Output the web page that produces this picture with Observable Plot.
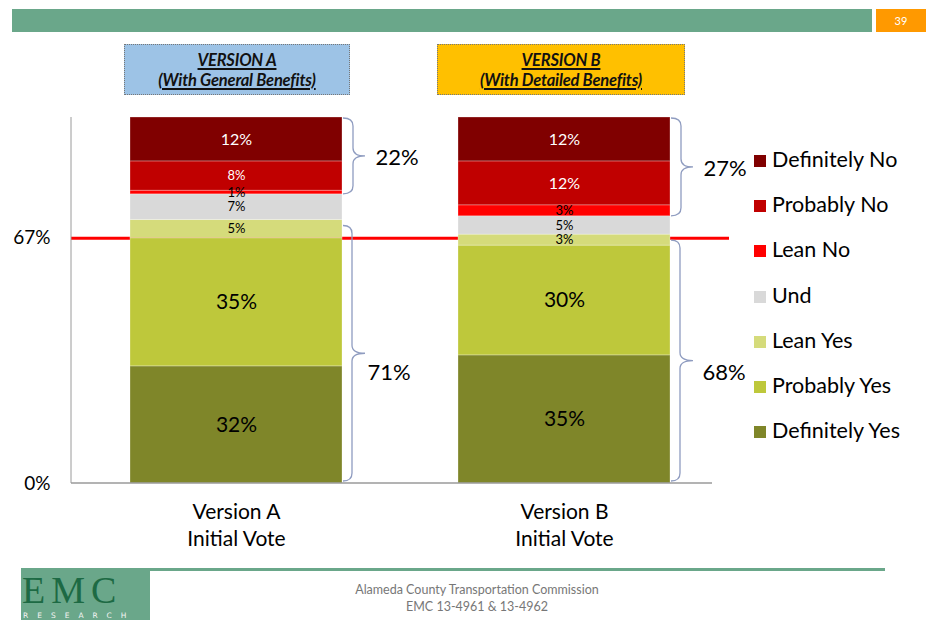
<!DOCTYPE html>
<html>
<head>
<meta charset="utf-8">
<script src="https://cdn.jsdelivr.net/npm/d3@7"></script>
<script src="https://cdn.jsdelivr.net/npm/@observablehq/plot@0.6"></script>
<style>
  html, body { margin: 0; padding: 0; background: #fff; }
  #page { position: relative; width: 926px; height: 620px; overflow: hidden; font-family: Lato, sans-serif; }
  #chart { position: absolute; left: 0; top: 0; }
  .abs { position: absolute; }
  .vbox { position: absolute; top: 44px; height: 51px; border: 1px dotted #777; box-sizing: border-box;
          font-family: Lato, sans-serif; font-weight: 700; font-style: italic; font-size: 16.5px;
          text-align: center; color: #111; line-height: 20px; padding-top: 5px; letter-spacing: -0.2px; }
  .vbox span { text-decoration: underline; text-decoration-thickness: 1.5px; text-underline-offset: 2px; }
  .leg { position: absolute; left: 754px; font-size: 21.5px; color: #000; height: 26px; line-height: 26px; white-space: nowrap; }
  .leg i { display: inline-block; width: 12px; height: 12px; margin-right: 6px; vertical-align: 0px; }
</style>
</head>
<body>
<div id="page">
  <div id="chart"></div>
  <div class="abs" style="left:12px; top:9px; width:860px; height:23px; background:#6aa78a;"></div>
  <div class="abs" style="left:876px; top:9px; width:50px; height:23px; background:#ff9900; color:#fff; font-size:11px; line-height:23px; text-align:center;">39</div>
  <div class="vbox" style="left:124px; width:226px; background:#9dc3e6;"><span>VERSION A</span><br><span>(With General Benefits)</span></div>
  <div class="vbox" style="left:437px; width:248px; background:#ffc000;"><span>VERSION B</span><br><span>(With Detailed Benefits)</span></div>
  <div id="legend"></div>
  <div class="abs" style="left:150px; top:568px; width:735px; height:3px; background:#6aa78a;"></div>
  <div class="abs" style="left:21px; top:568px; width:129px; height:52px; background:#6aa78a;">
    <div class="abs" style="left:1px; top:3px; height:38px; font-family:'Liberation Serif', serif; font-size:38px; color:#1d6a44; letter-spacing:6px; line-height:38px;">EMC</div>
    <div class="abs" style="left:2px; top:44px; height:8px; font-family:'DejaVu Sans', sans-serif; font-size:7.5px; color:#f4f4f4; letter-spacing:9px; line-height:8px; white-space:nowrap;">RESEARCH</div>
  </div>
  <div class="abs" style="left:277px; width:400px; top:581px; text-align:center; font-size:12.5px; color:#777; line-height:17px;">Alameda County Transportation Commission<br>EMC 13-4961 &amp; 13-4962</div>
</div>
<script>
// ---- data ----
const categories = ["Definitely Yes", "Probably Yes", "Lean Yes", "Und", "Lean No", "Probably No", "Definitely No"];
const colors = ["#7f8629", "#bec83b", "#d5db7b", "#d9d9d9", "#ff0000", "#c00000", "#800000"];
const versions = ["Version A", "Version B"];
const valuesA = [32, 35, 5, 7, 1, 8, 12];
const valuesB = [35, 30, 3, 5, 3, 12, 12];
const yesTotals = [71, 68];
const noTotals = [22, 27];
const threshold = 67;
const yTicks = [0, 67];
const yesCats = ["Definitely Yes", "Probably Yes", "Lean Yes"];
const noCats = ["Lean No", "Probably No", "Definitely No"];
const whiteLabelCats = ["Probably No", "Definitely No"];

const seriesValues = [valuesA, valuesB];
const rows = versions.flatMap((v, i) => categories.map((c, j) => ({version: v, category: c, value: seriesValues[i][j]})));
const totals = versions.map((v, i) => {
  const vals = seriesValues[i];
  const yesSum = d3.sum(categories.map((c, j) => yesCats.includes(c) ? vals[j] : 0));
  const noSum = d3.sum(categories.map((c, j) => noCats.includes(c) ? vals[j] : 0));
  return {version: v, yes: yesTotals[i], no: noTotals[i], yesSum, noSum, idx: i};
});

const labelText = d => d.value + "%";
const labelSize = d => d.value >= 20 ? 21 : d.value >= 10 ? 16 : 13;

function bracePath(x0, ya, yb, w1, w2) {
  const r = Math.min(8, (yb - ya) / 4);
  const ym = (ya + yb) / 2;
  return `M${x0},${ya} Q${x0 + w1},${ya} ${x0 + w1},${ya + r} L${x0 + w1},${ym - r} Q${x0 + w1},${ym} ${x0 + w2},${ym} ` +
         `Q${x0 + w1},${ym} ${x0 + w1},${ym + r} L${x0 + w1},${yb - r} Q${x0 + w1},${yb} ${x0},${yb}`;
}

const decor = (index, scales, values, dims) => {
  const {x, y} = scales;
  const bw = x.bandwidth ? x.bandwidth() : 212;
  const g = d3.create("svg:g");
  const last = x(versions[versions.length - 1]) + bw;
  g.append("line").attr("x1", dims.marginLeft).attr("x2", dims.marginLeft)
    .attr("y1", y(100)).attr("y2", y(0)).attr("stroke", "#9a9a9a").attr("stroke-width", 1);
  g.append("line").attr("x1", dims.marginLeft).attr("x2", last + 42)
    .attr("y1", y(0)).attr("y2", y(0)).attr("stroke", "#9a9a9a").attr("stroke-width", 1.5);
  for (const t of totals) {
    const x0 = x(t.version) + bw + 1;
    g.append("path").attr("d", bracePath(x0, y(100) + 1, y(100 - t.noSum), 10, 22))
      .attr("fill", "none").attr("stroke", "#8f9cc0").attr("stroke-width", 1.3);
    g.append("path").attr("d", bracePath(x0, y(t.yesSum) + 6, y(0) - 2, 9, 22))
      .attr("fill", "none").attr("stroke", "#8f9cc0").attr("stroke-width", 1.3);
  }
  return g.node();
};

const chart = Plot.plot({
  width: 926,
  height: 620,
  marginTop: 117,
  marginBottom: 137,
  marginLeft: 71,
  marginRight: 197,
  style: {fontFamily: "Lato, sans-serif", color: "#000", background: "transparent"},
  x: {domain: versions, paddingInner: 0.354, paddingOuter: 0.18, axis: null},
  y: {domain: [0, 100], axis: null},
  color: {domain: categories, range: colors},
  marks: [
    Plot.ruleY([threshold], {stroke: "#ff0000", strokeWidth: 3}),
    Plot.barY(rows, {x: "version", y: "value", fill: "category", stroke: "#ffffff", strokeOpacity: 0.35, strokeWidth: 0.8}),
    Plot.text(rows, Plot.stackY({x: "version", y: "value", z: "category",
      text: d => whiteLabelCats.includes(d.category) ? labelText(d) : null, fontSize: labelSize, fill: "#ffffff"})),
    Plot.text(rows, Plot.stackY({x: "version", y: "value", z: "category",
      text: d => whiteLabelCats.includes(d.category) ? null : labelText(d), fontSize: labelSize, fill: "#000000"})),
    decor,
    Plot.text(totals, {x: "version", y: d => 100 - d.noSum / 2, text: d => d.no + "%", dx: 139, dy: 2, textAnchor: "start", fontSize: 22, fill: "#000"}),
    Plot.text(totals, {filter: d => d.idx === 0, x: "version", y: d => d.yesSum / 2, text: d => d.yes + "%", dx: 131, dy: 21, textAnchor: "start", fontSize: 22, fill: "#000"}),
    Plot.text(totals, {filter: d => d.idx === 1, x: "version", y: d => d.yesSum / 2, text: d => d.yes + "%", dx: 138, dy: 14, textAnchor: "start", fontSize: 22, fill: "#000"}),
    Plot.axisY(yTicks, {label: null, tickSize: 0, tickPadding: 21, fontSize: 19, tickFormat: d => d + "%", fill: "#000"}),
    Plot.axisX({label: null, tickSize: 0, tickPadding: 16, fontSize: 21, lineHeight: 1.3, tickFormat: d => d + "\nInitial Vote", fill: "#000"})
  ]
});
document.getElementById("chart").appendChild(chart);

// legend (top to bottom: reverse of stacking order)
const legend = document.getElementById("legend");
categories.slice().reverse().forEach((c, i) => {
  const div = document.createElement("div");
  div.className = "leg";
  div.style.top = (146 + i * 45.2) + "px";
  const sw = document.createElement("i");
  sw.style.background = colors[categories.indexOf(c)];
  div.appendChild(sw);
  div.appendChild(document.createTextNode(c));
  legend.appendChild(div);
});
</script>
</body>
</html>
